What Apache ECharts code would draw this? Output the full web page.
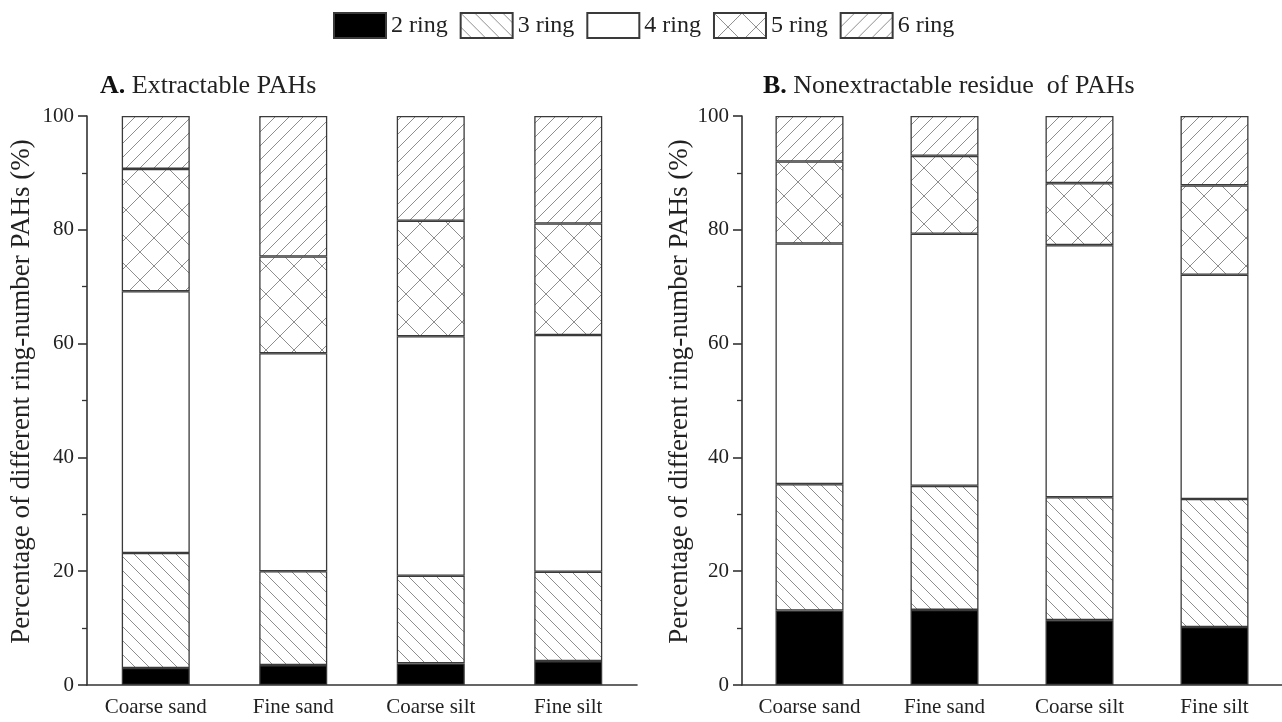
<!DOCTYPE html>
<html>
<head>
<meta charset="utf-8">
<script src="https://cdn.jsdelivr.net/npm/echarts@6/dist/echarts.min.js"></script>
<style>
  html, body { margin: 0; padding: 0; background: #fff; }
  #main { width: 1282px; height: 722px; }
</style>
</head>
<body>
<div id="main"></div>
<script>
// categories and ring names
var sizeClasses = ['Coarse sand', 'Fine sand', 'Coarse silt', 'Fine silt'];
var ringNames = ['2 ring', '3 ring', '4 ring', '5 ring', '6 ring'];

// A. Extractable PAHs (%)
var extRing2 = [3.0, 3.5, 3.8, 4.2];
var extRing3 = [20.2, 16.5, 15.4, 15.7];
var extRing4 = [46.0, 38.3, 42.1, 41.6];
var extRing5 = [21.5, 17.0, 20.3, 19.6];
var extRing6 = [9.3, 24.7, 18.4, 18.9];

// B. Nonextractable residue of PAHs (%)
var nerRing2 = [13.1, 13.2, 11.4, 10.2];
var nerRing3 = [22.2, 21.8, 21.6, 22.5];
var nerRing4 = [42.3, 44.3, 44.3, 39.4];
var nerRing5 = [14.4, 13.7, 10.9, 15.7];
var nerRing6 = [8.0, 7.0, 11.8, 12.2];

var yTicks = [0, 20, 40, 60, 80, 100];

var serif = '"Liberation Serif", "Times New Roman", serif';

// hatch tiles (s = spacing of the lines)
function hatch(kind, s) {
  var c = document.createElement('canvas');
  c.width = s; c.height = s;
  var ctx = c.getContext('2d');
  ctx.fillStyle = '#fff';
  ctx.fillRect(0, 0, s, s);
  ctx.strokeStyle = '#8e8e8e';
  ctx.lineWidth = 1;
  ctx.beginPath();
  for (var k = -s; k <= s; k += s) {
    if (kind == 'back' || kind == 'cross') {
      ctx.moveTo(k, 0); ctx.lineTo(k + s, s);
    }
    if (kind == 'fwd' || kind == 'cross') {
      ctx.moveTo(k, s); ctx.lineTo(k + s, 0);
    }
  }
  ctx.stroke();
  return { image: c, repeat: 'repeat' };
}

var fills = ['#000', hatch('back', 14), '#fff', hatch('cross', 28), hatch('fwd', 14)];

function makeSeries(gridIdx, rows) {
  var out = [];
  for (var i = 0; i < rows.length; i++) {
    out.push({
      name: ringNames[i],
      type: 'bar',
      stack: 'g' + gridIdx,
      xAxisIndex: gridIdx,
      yAxisIndex: gridIdx,
      barWidth: 68,
      data: rows[i],
      itemStyle: { color: fills[i], borderColor: '#3a3a3a', borderWidth: 1.3 },
      emphasis: { disabled: true }
    });
  }
  return out;
}

function xAx(gridIdx) {
  return {
    type: 'category',
    gridIndex: gridIdx,
    data: sizeClasses,
    axisLine: { lineStyle: { color: '#333', width: 1.6 } },
    axisTick: { alignWithLabel: true, length: 8, lineStyle: { color: '#333', width: 1.6 } },
    axisLabel: { color: '#222', fontFamily: serif, fontSize: 21, margin: 12, interval: 0 }
  };
}

function yAx(gridIdx, gap) {
  return {
    type: 'value',
    gridIndex: gridIdx,
    min: 0, max: 100, interval: 20,
    name: 'Percentage of different ring-number PAHs (%)',
    nameLocation: 'middle',
    nameGap: gap,
    nameTextStyle: { color: '#222', fontFamily: serif, fontSize: 27, padding: [0, 0, 0, 18] },
    axisLine: { show: true, lineStyle: { color: '#333', width: 1.6 } },
    axisTick: { show: true, length: 9, lineStyle: { color: '#333', width: 1.6 } },
    minorTick: { show: true, splitNumber: 2, length: 5, lineStyle: { color: '#333', width: 1.3 } },
    splitLine: { show: false },
    axisLabel: {
      color: '#222', fontFamily: serif, fontSize: 21, margin: 13,
      formatter: function (v) { return yTicks.indexOf(v) >= 0 ? String(v) : ''; }
    }
  };
}

var titleStyle = {
  color: '#222', fontFamily: serif, fontSize: 26, fontWeight: 'normal',
  rich: { b: { fontFamily: serif, fontSize: 26, fontWeight: 'bold', color: '#111' } }
};

var myChart = echarts.init(document.getElementById('main'));
var option = {
  backgroundColor: '#fff',
  animation: false,
  legend: {
    data: ringNames,
    left: 328, top: 7,
    icon: 'rect',
    itemWidth: 52, itemHeight: 25, itemGap: 12,
    textStyle: { color: '#222', fontFamily: serif, fontSize: 24 }
  },
  title: [
    { text: '{b|A.} Extractable PAHs', left: 95, top: 68, textStyle: titleStyle },
    { text: '{b|B.} Nonextractable residue  of PAHs', left: 758, top: 68, textStyle: titleStyle }
  ],
  grid: [
    { left: 87, top: 116, width: 550, height: 569 },
    { left: 742, top: 116, width: 552, height: 569 }
  ],
  xAxis: [xAx(0), xAx(1)],
  yAxis: [yAx(0, 52), yAx(1, 47)],
  series: makeSeries(0, [extRing2, extRing3, extRing4, extRing5, extRing6])
    .concat(makeSeries(1, [nerRing2, nerRing3, nerRing4, nerRing5, nerRing6]))
};
myChart.setOption(option);
</script>
</body>
</html>
